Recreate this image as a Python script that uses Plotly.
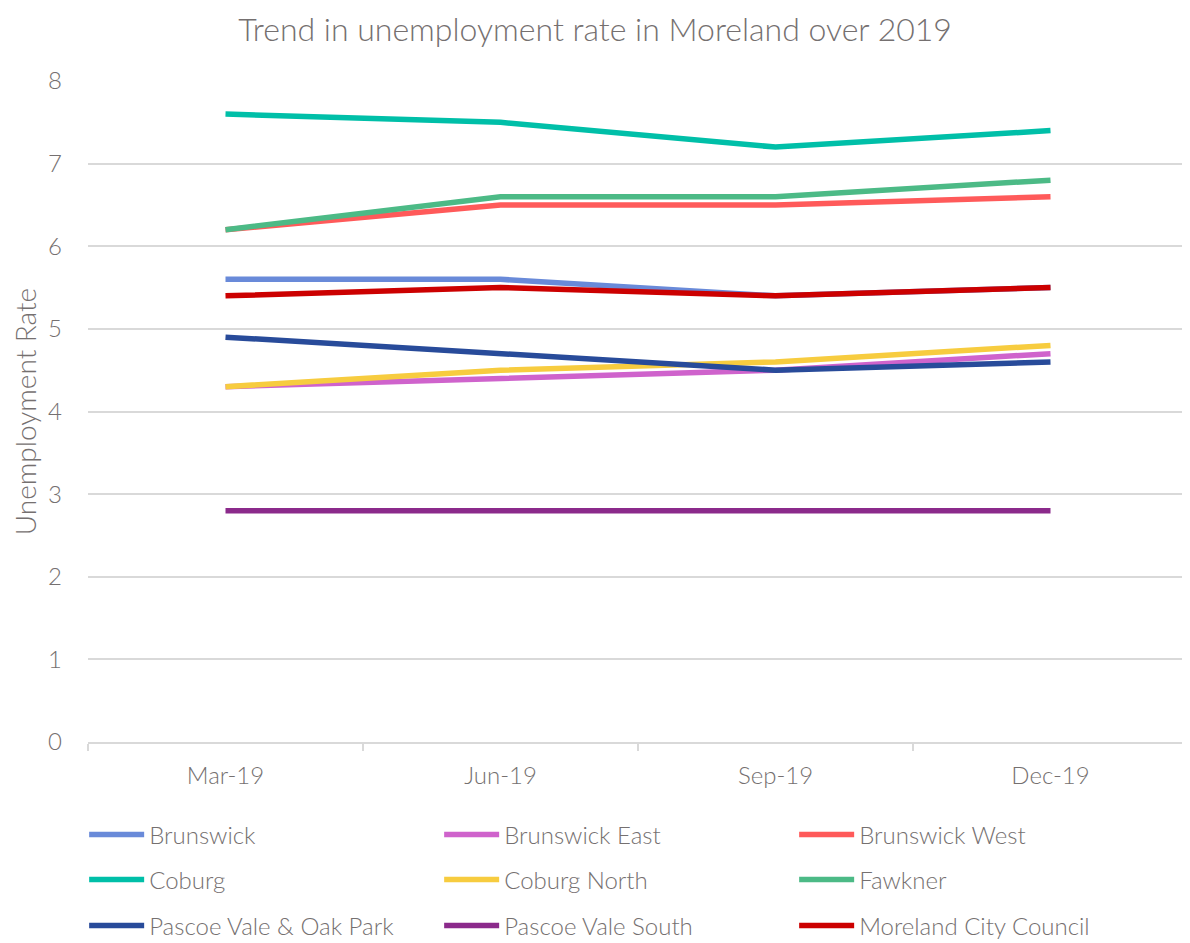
import plotly.graph_objects as go

quarters = ["Mar-19", "Jun-19", "Sep-19", "Dec-19"]
series_names = ["Brunswick", "Brunswick East", "Brunswick West", "Coburg", "Coburg North",
                "Fawkner", "Pascoe Vale & Oak Park", "Pascoe Vale South", "Moreland City Council"]
brunswick = [5.6, 5.6, 5.4, 5.5]
brunswick_east = [4.3, 4.4, 4.5, 4.7]
brunswick_west = [6.2, 6.5, 6.5, 6.6]
coburg = [7.6, 7.5, 7.2, 7.4]
coburg_north = [4.3, 4.5, 4.6, 4.8]
fawkner = [6.2, 6.6, 6.6, 6.8]
pascoe_oak = [4.9, 4.7, 4.5, 4.6]
pascoe_south = [2.8, 2.8, 2.8, 2.8]
moreland = [5.4, 5.5, 5.4, 5.5]
values = [brunswick, brunswick_east, brunswick_west, coburg, coburg_north,
          fawkner, pascoe_oak, pascoe_south, moreland]
colors = ["#698ad9", "#cf63cc", "#ff5a5a", "#00bfa8", "#f7cc3f",
          "#4cba86", "#284b9a", "#8b2a8b", "#cc0000"]
legend_ids = ["legend", "legend", "legend", "legend2", "legend2", "legend2",
              "legend3", "legend3", "legend3"]

fig = go.Figure()
for name, vals, col, lg in zip(series_names, values, colors, legend_ids):
    fig.add_trace(go.Scatter(x=quarters, y=vals, name=name, mode="lines",
                             line=dict(color=col, width=5.5), legend=lg))

txt = "#757070"
legend_rows_y = [-0.1407, -0.2088, -0.2784]


def legend_cfg(yv):
    return dict(orientation="h", x=-0.0035, xanchor="left", y=yv, yanchor="middle",
                entrywidth=285, entrywidthmode="pixels", font=dict(size=24, color=txt, weight=300),
                itemwidth=55, bgcolor="rgba(0,0,0,0)")


fig.update_layout(
    width=1190, height=943,
    paper_bgcolor="white", plot_bgcolor="white",
    font=dict(family="Lato", color=txt, size=24, weight=300),
    title=dict(text="Trend in unemployment rate in Moreland over 2019", x=0.4933, xanchor="center",
               y=0.977, yanchor="middle", font=dict(size=32, color=txt, weight=300)),
    margin=dict(l=80, r=10, t=73, b=209, autoexpand=False),
    showlegend=True,
    legend=legend_cfg(legend_rows_y[0]),
    legend2=legend_cfg(legend_rows_y[1]),
    legend3=legend_cfg(legend_rows_y[2]),
    xaxis=dict(type="category", range=[-0.5, 3.5], showgrid=False, showline=True,
               linecolor="#d9d9d9", linewidth=2, ticks="outside", tickson="boundaries",
               tickcolor="#d9d9d9", ticklen=7, tickwidth=1.5, automargin=False,
               ticklabelstandoff=11, tickfont=dict(size=24, color=txt, weight=300)),
    yaxis=dict(range=[0, 8], dtick=1, showgrid=True, gridcolor="#d9d9d9", gridwidth=2,
               zeroline=False, showline=False, ticks="", ticklabelstandoff=25, automargin=False,
               tickfont=dict(size=24, color=txt, weight=300),
               title=dict(text="Unemployment Rate", font=dict(size=28, color=txt, weight=300),
                          standoff=9)),
)
fig.write_html("out.html")
